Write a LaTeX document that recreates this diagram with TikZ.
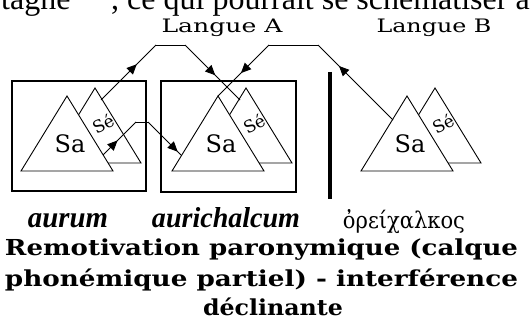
\documentclass[tikz,border=0pt]{standalone}
\usepackage{fontspec}
\setmainfont{Liberation Serif}
\newfontfamily\grkfont{DejaVu Serif}
\newfontfamily\ttlfont{DejaVu Serif}
\newfontfamily\dvfont{DejaVu Serif}
\usetikzlibrary{arrows.meta,decorations.markings}
\tikzset{
  box/.style={draw, line width=1.7pt},
  tri/.style={draw, fill=white, line width=0.9pt, line join=miter},
  link/.style={draw, line width=0.9pt},
  midarr/.style={postaction={decorate}, decoration={markings,
      mark=at position #1 with {\arrow{Triangle[length=10pt,width=9pt]}}}},
  lbl/.style={inner sep=0pt},
}
\begin{document}
\begin{tikzpicture}[x=1pt,y=-1pt]
\clip (0,0) rectangle (530,326);
% top running text (cut by the page edge)
\node[lbl, anchor=base west, font=\fontsize{32}{32}\selectfont] (topA) at (1,10) {tagne};
\node[lbl, anchor=base west, font=\fontsize{32}{32}\selectfont] (topB) at (111,10) {, ce qui pourrait se schématiser a};
% language headings
\node[lbl, anchor=base] (langA) at (222,33) {\resizebox{121pt}{13.5pt}{\dvfont Langue A}};
\node[lbl, anchor=base] (langB) at (434,33) {\resizebox{115pt}{13.5pt}{\dvfont Langue B}};
% boxes and separator
\draw[box] (12,81) rectangle (146,191);
\draw[box] (161,81) rectangle (296,192);
\draw[line width=4pt] (330,72) -- (330,199);
% triangle groups
\foreach \gx/\gn in {67/g1, 218/g2, 407/g3}{
  \begin{scope}[shift={(\gx,96)}]
    \draw[tri] (28,-8) -- (74,67) -- (-18,67) -- cycle;
    \draw[tri] (0,0) -- (46,75) -- (-46,75) -- cycle;
    \node[lbl, rotate=28, font=\dvfont\fontsize{17}{17}\selectfont] (se\gn) at (36,28) {Sé};
    \node[lbl, font=\dvfont\fontsize{24}{24}\selectfont] (sa\gn) at (3,48) {Sa};
  \end{scope}
}
% connector points
\coordinate (p1s) at (101,100);
\coordinate (p1a) at (156,45);
\coordinate (p1b) at (185,45);
\coordinate (p1e) at (240,100);
\coordinate (p2s) at (393,120);
\coordinate (p2a) at (318,45);
\coordinate (p2b) at (269,45);
\coordinate (p2e) at (218,96);
\coordinate (p3s) at (103,155);
\coordinate (p3a) at (136,122);
\coordinate (p3b) at (148,122);
\coordinate (p3e) at (181,155);
% connectors
\draw[link, midarr=0.65] (p1s) -- (p1a);
\draw[link] (p1a) -- (p1b);
\draw[link, midarr=0.55] (p1b) -- (p1e);
\draw[link, midarr=0.72] (p2s) -- (p2a);
\draw[link] (p2a) -- (p2b);
\draw[link, midarr=0.55] (p2b) -- (p2e);
\draw[link, midarr=0.44] (p3s) -- (p3a);
\draw[link] (p3a) -- (p3b);
\draw[link, midarr=0.9] (p3b) -- (p3e);
% words
\node[lbl, anchor=base] (w1) at (68,227) {\resizebox{80pt}{14pt}{\bfseries\itshape aurum}};
\node[lbl, anchor=base] (w2) at (226,227) {\resizebox{148pt}{20pt}{\bfseries\itshape aurichalcum}};
\node[lbl, anchor=base] (w3) at (404,228) {\resizebox{122pt}{19pt}{\grkfont ὀρείχαλκος}};
% caption
\node[lbl, anchor=base] (c1) at (261.5,255) {\resizebox{513pt}{\height}{\ttlfont\bfseries\fontsize{22}{22}\selectfont Remotivation paronymique (calque}};
\node[lbl, anchor=base] (c2) at (261.5,286) {\resizebox{513pt}{\height}{\ttlfont\bfseries\fontsize{22}{22}\selectfont phonémique partiel) - interférence}};
\node[lbl, anchor=base] (c3) at (273,315) {\resizebox{140pt}{\height}{\ttlfont\bfseries\fontsize{22}{22}\selectfont déclinante}};
\end{tikzpicture}
\end{document}
